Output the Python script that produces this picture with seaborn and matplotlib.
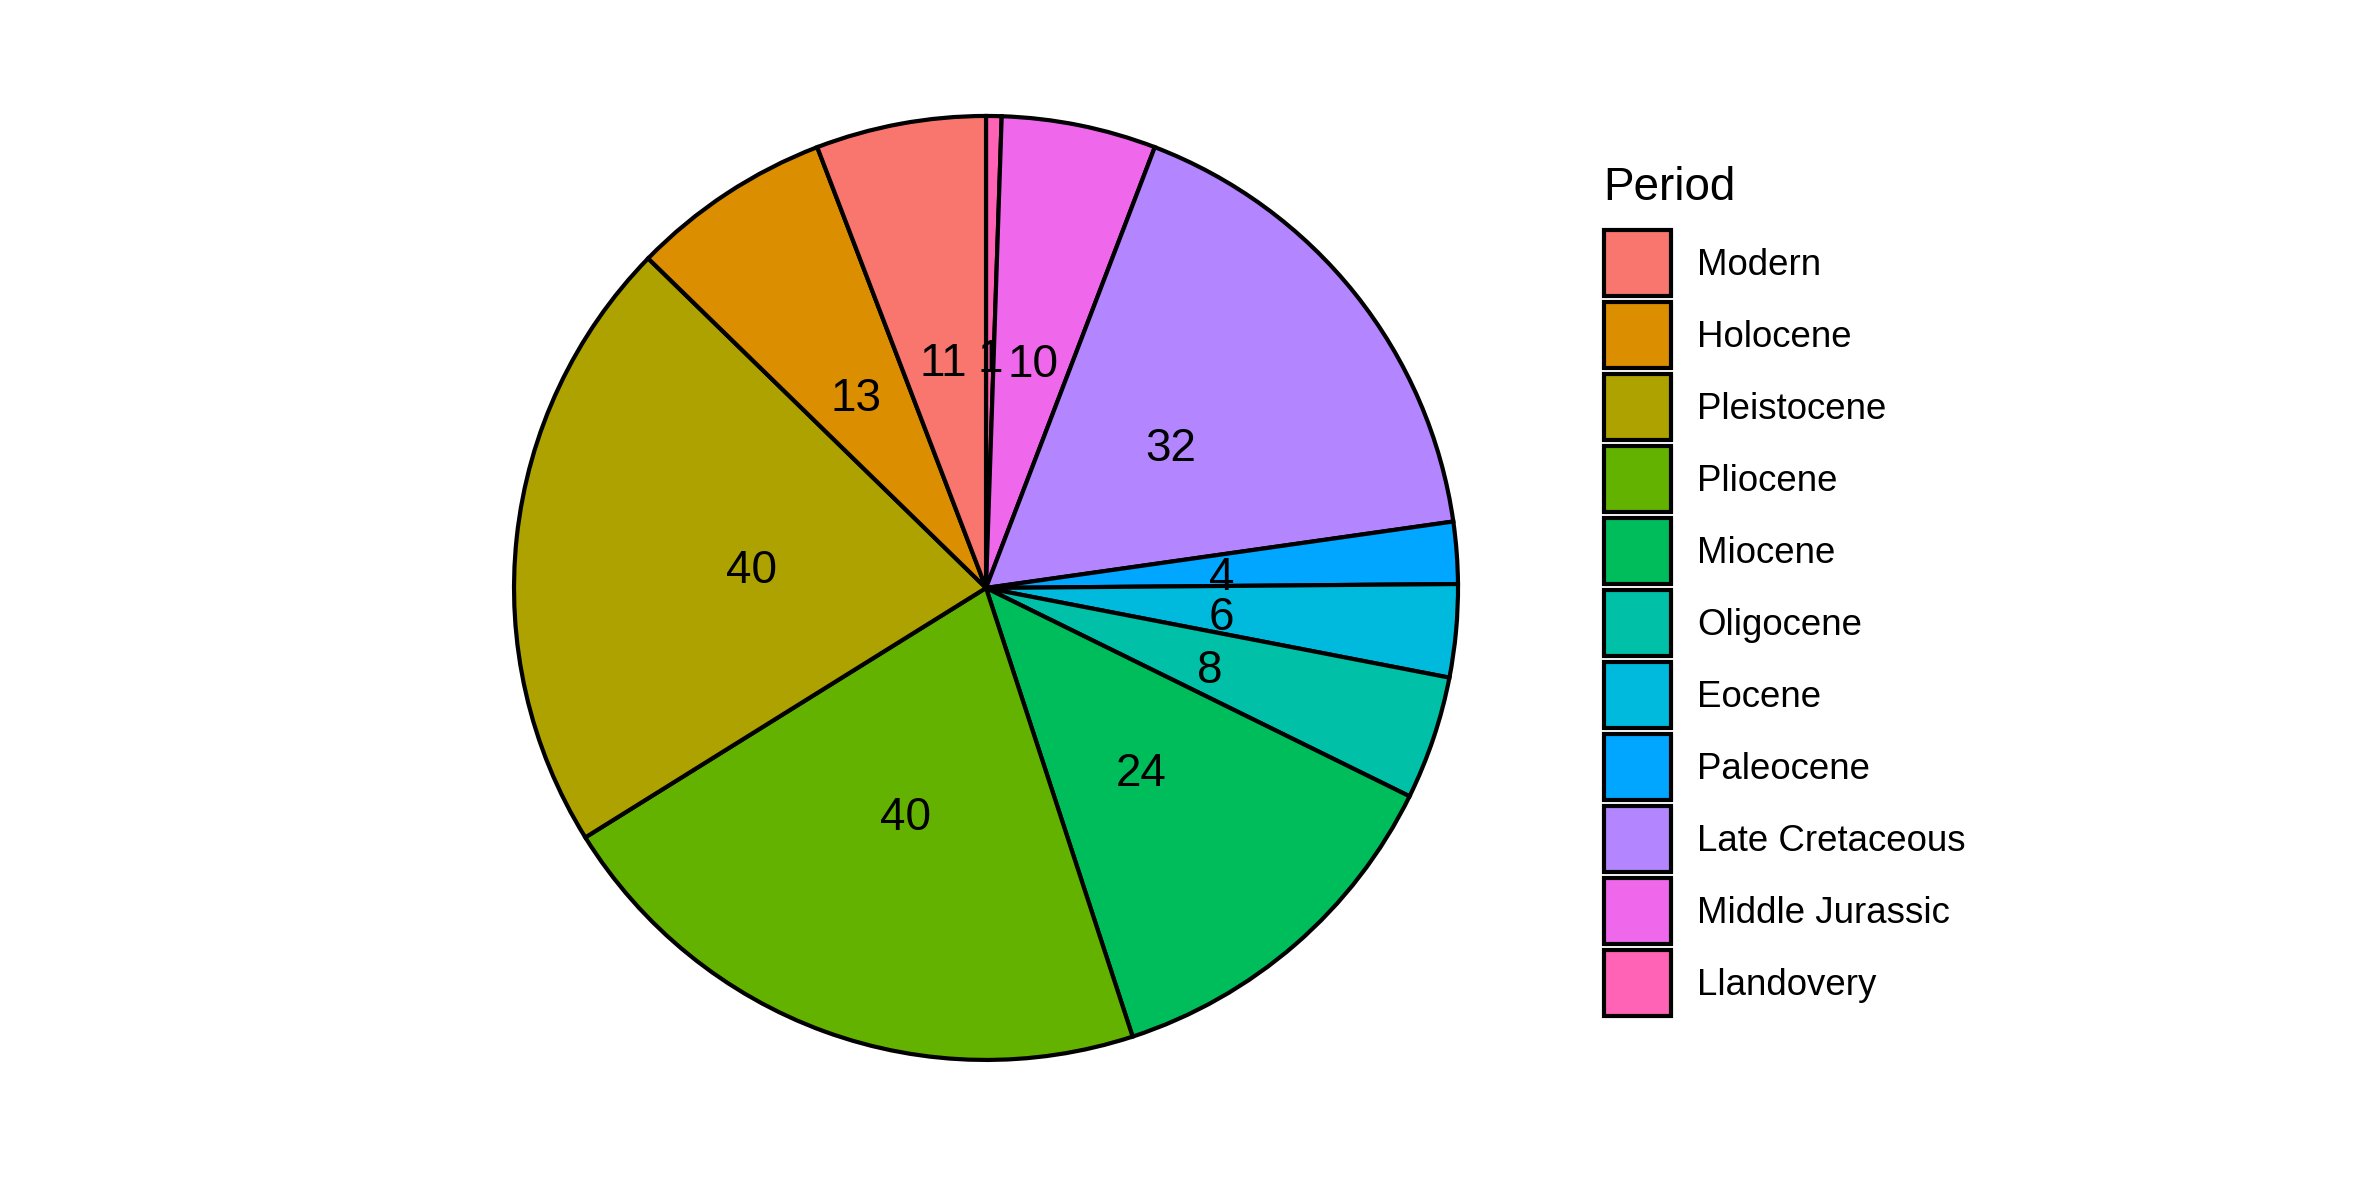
import matplotlib
matplotlib.use("Agg")
import matplotlib.pyplot as plt
from matplotlib.patches import Rectangle
from matplotlib.transforms import offset_copy
import seaborn as sns

# --- data (legend order) ---
periods = ["Modern", "Holocene", "Pleistocene", "Pliocene", "Miocene", "Oligocene",
           "Eocene", "Paleocene", "Late Cretaceous", "Middle Jurassic", "Llandovery"]
counts = [11, 13, 40, 40, 24, 8, 6, 4, 32, 10, 1]
# ggplot default hue palette for 11 levels
hue_colors = ["#F8766D", "#DB8E00", "#AEA200", "#64B200", "#00BD5C", "#00C1A7",
              "#00BADE", "#00A6FF", "#B385FF", "#EF67EB", "#FF63B6"]

sns.set_theme(style="white")
plt.rcParams["font.family"] = ["Liberation Sans", "DejaVu Sans"]
plt.rcParams["text.color"] = "black"

total = sum(counts)
W, H = 2362, 1181

fig = plt.figure(figsize=(W / 300, H / 300), dpi=300)
ax = fig.add_axes([0.2176, 0.1025, 0.3997, 0.7993])

# pie goes clockwise from 12 o'clock, last level first
wedges, _, autotexts = ax.pie(
    counts[::-1],
    colors=hue_colors[::-1],
    startangle=90,
    counterclock=False,
    radius=1,
    autopct=lambda p: f"{round(p * total / 100):d}",
    pctdistance=0.5,
    wedgeprops=dict(edgecolor="black", linewidth=1.0),
    textprops=dict(fontsize=11, color="black"),
)
# ggplot centres the digits a bit lower than matplotlib does
for t in autotexts:
    t.set_transform(offset_copy(t.get_transform(), fig=fig, x=0, y=-8, units="dots"))

ax.set_xlim(-1.0, 1.0)
ax.set_ylim(-1.0, 1.0)
ax.set_aspect("equal")
ax.axis("off")

# --- legend, laid out in pixel coordinates like ggplot's guide ---
lax = fig.add_axes([0, 0, 1, 1])
lax.set_xlim(0, W)
lax.set_ylim(H, 0)
lax.axis("off")

key_x, key_top, key_size, pitch = 1604, 230, 67, 72
lax.text(1603, 200, "Period", fontsize=11, va="baseline", ha="left", color="black")
for i, (lab, col) in enumerate(zip(periods, hue_colors)):
    y0 = key_top + pitch * i
    lax.add_patch(Rectangle((key_x, y0), key_size, key_size - 1,
                            facecolor=col, edgecolor="black", linewidth=1.0))
    lax.text(1697, y0 + 45, lab, fontsize=8.8, va="baseline", ha="left", color="black")

fig.savefig("out.png", dpi=300, facecolor="white")
